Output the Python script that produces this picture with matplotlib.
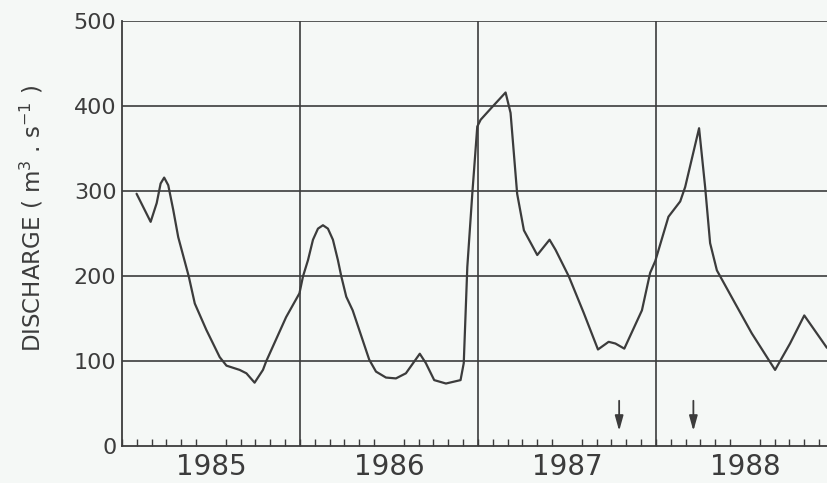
#!/usr/bin/env python3
"""Monthly river discharge hydrograph, 1985-1988."""

import matplotlib
matplotlib.use("Agg", force=True)

import matplotlib.pyplot as plt
import numpy as np

time_years = [
    1985.082, 1985.161, 1985.195, 1985.217, 1985.237, 1985.260, 1985.288,
    1985.316, 1985.375, 1985.409, 1985.474, 1985.549, 1985.587, 1985.661,
    1985.699, 1985.745, 1985.792, 1985.810, 1985.922, 1985.997, 1986.017,
    1986.045, 1986.073, 1986.101, 1986.129, 1986.157, 1986.185, 1986.213,
    1986.232, 1986.260, 1986.296, 1986.389, 1986.427, 1986.483, 1986.539,
    1986.595, 1986.673, 1986.707, 1986.754, 1986.820, 1986.902, 1986.920,
    1986.940, 1986.968, 1986.996, 1987.015, 1987.080, 1987.155, 1987.183,
    1987.220, 1987.258, 1987.333, 1987.402, 1987.436, 1987.510, 1987.594,
    1987.674, 1987.734, 1987.772, 1987.822, 1987.921, 1987.967, 1987.996,
    1988.070, 1988.136, 1988.164, 1988.242, 1988.276, 1988.304, 1988.342,
    1988.445, 1988.538, 1988.669, 1988.753, 1988.833, 1988.960,
]
discharge = [
    297, 264, 286, 309, 316, 307, 278,
    246, 200, 168, 137, 105, 95, 90,
    86, 75, 90, 100, 152, 180, 200,
    219, 243, 256, 260, 256, 243, 219,
    200, 176, 160, 102, 88, 81, 80,
    86, 109, 98, 78, 74, 78, 98,
    211, 297, 376, 384, 399, 416, 392,
    297, 254, 225, 243, 231, 200, 157,
    114, 123, 121, 115, 160, 204, 218,
    270, 288, 305, 374, 305, 239, 207,
    168, 133, 90, 121, 154, 116,
]

years = [1985, 1986, 1987, 1988]
y_ticks = [0, 100, 200, 300, 400, 500]

# sampling dates marked with arrows
arrow_dates = [1987.793, 1988.21]

INK = "#3c3c3c"
PAPER = "#f5f8f6"

fig = plt.figure(figsize=(8.27, 4.83), dpi=100, facecolor=PAPER)
ax = fig.add_axes([0.1475, 0.0756, 0.8525, 0.8809], facecolor=PAPER)

ax.plot(time_years, discharge, color=INK, linewidth=1.6,
        solid_joinstyle="round", solid_capstyle="round")

ax.set_xlim(1985, 1985 + 705 / 178)
ax.set_ylim(0, 500)

# horizontal grid and year boundaries
for v in y_ticks[1:]:
    ax.axhline(v, color=INK, linewidth=1.2, zorder=0)
for yr in years[1:]:
    ax.axvline(yr, color=INK, linewidth=1.2, zorder=0)

for side in ("top", "right"):
    ax.spines[side].set_visible(False)
for side in ("left", "bottom"):
    ax.spines[side].set_color(INK)
    ax.spines[side].set_linewidth(1.3)

ax.set_yticks(y_ticks)
ax.set_yticklabels([str(v) for v in y_ticks])
ax.tick_params(axis="y", length=0, pad=4, labelsize=16, labelcolor=INK)

# monthly ticks pointing inward, year names centred under each year
months = np.arange(years[0], years[-1] + 1, 1 / 12)
ax.set_xticks(months, minor=True)
ax.set_xticks([y + 0.5 for y in years])
ax.set_xticklabels([str(y) for y in years])
ax.tick_params(axis="x", which="minor", direction="in", length=4.8,
               width=1.0, color=INK)
ax.tick_params(axis="x", which="major", length=0, pad=5, labelsize=20,
               labelcolor=INK)

ax.set_ylabel(r"DISCHARGE ( m$^3$ . s$^{-1}$ )", fontsize=16.5, color=INK)
ax.yaxis.set_label_coords(-0.108, 0.537)

for d in arrow_dates:
    ax.annotate("", xy=(d, 15), xytext=(d, 57),
                arrowprops=dict(arrowstyle="-|>,head_length=0.9,head_width=0.25",
                                color=INK, linewidth=1.3))

fig.savefig("out.png", dpi=100, facecolor=PAPER)
